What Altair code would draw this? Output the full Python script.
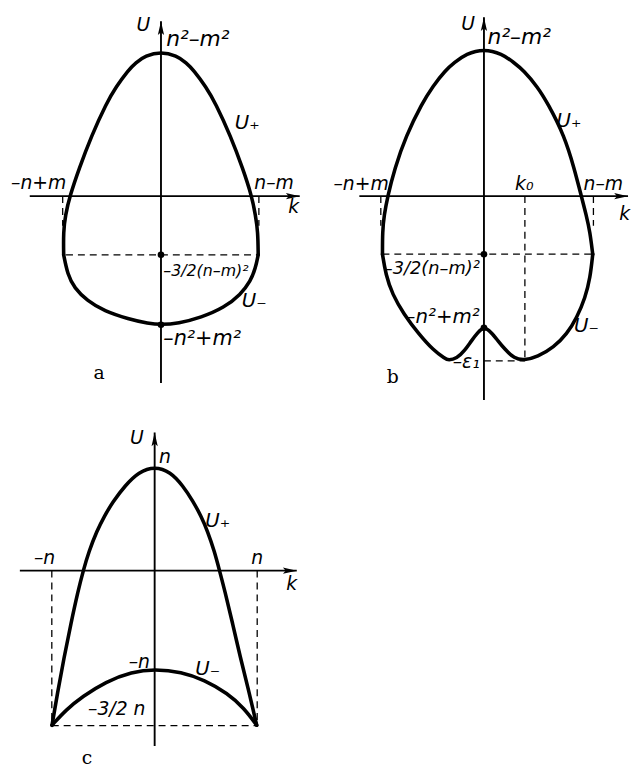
import altair as alt
import pandas as pd

# ---------------- panel a ----------------
A_UP_K = [-0.984, -0.987, -0.967, -0.922, -0.830, -0.704, -0.552, -0.454, -0.332, -0.256, -0.158,
          0.000, 0.158, 0.256, 0.332, 0.454, 0.552, 0.704, 0.830, 0.918, 0.956, 0.980, 0.983]
A_UP_U = [-0.593, -0.360, -0.193, 0.000, 0.273, 0.607, 0.940, 1.107, 1.273, 1.350, 1.420,
          1.463, 1.420, 1.350, 1.273, 1.107, 0.940, 0.607, 0.273, 0.000, -0.193, -0.360, -0.593]
A_DN_K = [-0.984, -0.944, -0.877, -0.744, -0.577, -0.327, -0.127, 0.000, 0.173, 0.406, 0.640,
          0.806, 0.906, 0.956, 0.983]
A_DN_U = [-0.593, -0.793, -0.927, -1.060, -1.160, -1.243, -1.287, -1.300, -1.287, -1.227, -1.127,
          -0.993, -0.860, -0.727, -0.593]
A_DASH = ([-0.994, 0.990, -0.960], [0.0, 0.0, -0.593], [-0.994, 0.990, 0.980], [-0.30, -0.30, -0.593])
A_DOT_K = [0.0, 0.0]
A_DOT_U = [-0.593, -1.300]
A_AXIS = (-1.327, 1.403, -1.890, 1.770)
A_LAB_TEXT = ["U", "n²–m²", "U₊", "–n+m", "n–m", "k", "–3/2(n–m)²", "U₋", "–n²+m²"]
A_LAB_K = [-0.177, 0.053, 0.873, -0.957, 0.943, 1.343, 0.023, 0.943, 0.023]
A_LAB_U = [1.730, 1.590, 0.740, 0.130, 0.130, -0.110, -0.760, -1.060, -1.440]
A_LAB_AL = ["center", "left", "center", "right", "left", "center", "left", "center", "left"]
A_LAB_FS = [19, 22, 20, 19, 19, 19, 16, 20, 21]
A_LETTER = ("a", -0.627, -1.790)

# ---------------- panel b ----------------
B_UP_K = [-1.026, -1.026, -1.010, -0.973, -0.905, -0.790, -0.625, -0.520, -0.390, -0.300, -0.180,
          0.000, 0.181, 0.305, 0.400, 0.540, 0.645, 0.815, 0.915, 0.985, 1.035, 1.072, 1.100]
B_UP_U = [-0.587, -0.360, -0.193, 0.000, 0.273, 0.607, 0.940, 1.107, 1.273, 1.350, 1.440,
          1.490, 1.440, 1.350, 1.273, 1.107, 0.940, 0.607, 0.273, 0.000, -0.193, -0.360, -0.587]
B_DN_K = [-1.026, -0.993, -0.926, -0.810, -0.660, -0.510, -0.393, -0.360, -0.276, -0.193, -0.126,
          -0.060, 0.000, 0.074, 0.140, 0.207, 0.307, 0.407, 0.540, 0.707, 0.840, 0.940, 1.024,
          1.074, 1.100]
B_DN_U = [-0.587, -0.793, -0.993, -1.193, -1.393, -1.560, -1.643, -1.660, -1.643, -1.560, -1.460,
          -1.377, -1.315, -1.377, -1.460, -1.543, -1.643, -1.660, -1.627, -1.527, -1.393, -1.227,
          -1.027, -0.827, -0.587]
B_DASH = ([-1.043, 1.107, -1.026, 0.414, 0.000],
          [0.0, 0.0, -0.587, 0.0, -1.665],
          [-1.043, 1.107, 1.090, 0.414, 0.414],
          [-0.30, -0.30, -0.587, -1.660, -1.665])
B_DOT_K = [0.0, 0.0]
B_DOT_U = [-0.587, -1.330]
B_AXIS = (-1.260, 1.457, -2.060, 1.810)
B_LAB_TEXT = ["U", "n²–m²", "U₊", "–n+m", "k₀", "n–m", "k", "–3/2(n–m)²", "–n²+m²", "U₋", "–ε₁"]
B_LAB_K = [-0.160, 0.037, 0.860, -0.963, 0.407, 1.007, 1.424, -1.013, -0.043, 1.037, -0.043]
B_LAB_U = [1.740, 1.610, 0.760, 0.123, 0.123, 0.123, -0.177, -0.740, -1.227, -1.310, -1.677]
B_LAB_AL = ["center", "left", "center", "right", "center", "left", "center", "left", "right",
            "center", "right"]
B_LAB_FS = [19, 22, 20, 19, 19, 19, 19, 18, 20, 20, 19]
B_LETTER = ("b", -0.923, -1.830)

# ---------------- panel c ----------------
C_UP_K = [-1.038, -0.977, -0.915, -0.848, -0.775, -0.722, -0.665, -0.585, -0.510, -0.420, -0.300,
          -0.160, 0.000, 0.160, 0.285, 0.390, 0.470, 0.535, 0.605, 0.656, 0.710, 0.790, 0.865,
          0.950, 1.032]
C_UP_U = [-1.563, -1.206, -0.873, -0.540, -0.206, 0.000, 0.194, 0.400, 0.550, 0.700, 0.860,
          1.000, 1.054, 1.000, 0.860, 0.700, 0.550, 0.400, 0.194, 0.000, -0.206, -0.540, -0.873,
          -1.206, -1.563]
C_DN_K = [-1.038, -0.896, -0.730, -0.496, -0.230, 0.000, 0.270, 0.504, 0.737, 0.904, 1.032]
C_DN_U = [-1.563, -1.406, -1.273, -1.123, -1.023, -0.996, -1.023, -1.106, -1.240, -1.390, -1.563]
C_DASH = ([-1.040, 1.037, -1.040], [0.0, 0.0, -1.566], [-1.040, 1.037, 1.037], [-1.566, -1.566, -1.566])
C_DOT_K = []
C_DOT_U = []
C_AXIS = (-1.363, 1.437, -1.773, 1.397)
C_LAB_TEXT = ["U", "n", "U₊", "–n", "n", "k", "–n", "U₋", "–3/2 n"]
C_LAB_K = [-0.180, 0.104, 0.637, -1.113, 1.037, 1.387, -0.047, 0.537, -0.093]
C_LAB_U = [1.344, 1.144, 0.497, 0.127, 0.127, -0.140, -0.923, -0.990, -1.403]
C_LAB_AL = ["center", "center", "center", "center", "center", "center", "right", "center", "right"]
C_LAB_FS = [19, 19, 20, 19, 19, 19, 19, 20, 19]
C_LETTER = ("c", -0.683, -1.900)

FONT = "DejaVu Sans"
ARROW_UP = "M0,0L0.45,2L0,1.6L-0.45,2Z"
ARROW_RIGHT = "M0,0L-2,0.45L-1.6,0L-2,-0.45Z"


def panel(curves, dash, dot_k, dot_u, axis_ext, lab, letter, xdom, ydom, w, h):
    xs = alt.Scale(domain=xdom, nice=False, zero=False)
    ys = alt.Scale(domain=ydom, nice=False, zero=False)

    def XY():
        return dict(x=alt.X("k:Q", scale=xs, axis=None), y=alt.Y("U:Q", scale=ys, axis=None))

    rows = []
    for name, (ks, us) in curves.items():
        for i, (k, u) in enumerate(zip(ks, us)):
            rows.append(dict(curve=name, order=i, k=k, U=u))
    cdf = pd.DataFrame(rows)
    layers = []

    kmin, kmax, umin, umax = axis_ext
    adf = pd.DataFrame(dict(k=[kmin, 0.0], U=[0.0, umin], k2=[kmax, 0.0], U2=[0.0, umax]))
    layers.append(alt.Chart(adf).mark_rule(color="black", strokeWidth=1.9).encode(
        **XY(), x2="k2:Q", y2="U2:Q"))
    hdf = pd.DataFrame(dict(k=[kmax, 0.0], U=[0.0, umax], shape=[ARROW_RIGHT, ARROW_UP]))
    layers.append(alt.Chart(hdf).mark_point(filled=True, color="black", opacity=1, size=196,
                                            strokeWidth=0).encode(
        **XY(), shape=alt.Shape("shape:N", scale=None)))

    ddf = pd.DataFrame(dict(k=dash[0], U=dash[1], k2=dash[2], U2=dash[3]))
    layers.append(alt.Chart(ddf).mark_rule(color="black", strokeWidth=1.3,
                                           strokeDash=[7, 5]).encode(
        **XY(), x2="k2:Q", y2="U2:Q"))

    layers.append(alt.Chart(cdf).mark_line(color="black", strokeWidth=3.6,
                                           interpolate="basis", strokeCap="round",
                                           strokeJoin="round").encode(
        **XY(), detail="curve:N", order="order:Q"))

    if dot_k:
        pdf = pd.DataFrame(dict(k=dot_k, U=dot_u))
        layers.append(alt.Chart(pdf).mark_point(filled=True, color="black", opacity=1,
                                                size=45).encode(**XY()))

    ldf = pd.DataFrame(dict(text=lab[0], k=lab[1], U=lab[2], align=lab[3], fs=lab[4]))
    for al in ["left", "center", "right"]:
        sub = ldf[ldf["align"] == al]
        if len(sub):
            layers.append(alt.Chart(sub).mark_text(align=al, baseline="middle", font=FONT,
                                                   fontStyle="italic", color="black").encode(
                **XY(), text="text:N", size=alt.Size("fs:Q", scale=None)))

    tdf = pd.DataFrame(dict(text=[letter[0]], k=[letter[1]], U=[letter[2]]))
    layers.append(alt.Chart(tdf).mark_text(align="center", baseline="middle",
                                           font="DejaVu Serif", fontSize=19,
                                           color="black").encode(**XY(), text="text:N"))
    return alt.layer(*layers).properties(width=w, height=h)


pa = panel({"U+": (A_UP_K, A_UP_U), "U-": (A_DN_K, A_DN_U)}, A_DASH, A_DOT_K, A_DOT_U, A_AXIS,
           (A_LAB_TEXT, A_LAB_K, A_LAB_U, A_LAB_AL, A_LAB_FS), A_LETTER,
           [-1.547, 1.553], [-2.14, 1.86], 310, 400)
pb = panel({"U+": (B_UP_K, B_UP_U), "U-": (B_DN_K, B_DN_U)}, B_DASH, B_DOT_K, B_DOT_U, B_AXIS,
           (B_LAB_TEXT, B_LAB_K, B_LAB_U, B_LAB_AL, B_LAB_FS), B_LETTER,
           [-1.713, 1.417], [-2.14, 1.86], 313, 400)
pc = panel({"U+": (C_UP_K, C_UP_U), "U-": (C_DN_K, C_DN_U)}, C_DASH, C_DOT_K, C_DOT_U, C_AXIS,
           (C_LAB_TEXT, C_LAB_K, C_LAB_U, C_LAB_AL, C_LAB_FS), C_LETTER,
           [-1.483, 1.617], [-1.883, 1.647], 310, 353)

chart = alt.vconcat(alt.hconcat(pa, pb, spacing=0), pc, spacing=0).properties(
    padding=0).configure_view(stroke=None)

chart.save("out.html", embed_options={"renderer": "svg", "actions": False})
